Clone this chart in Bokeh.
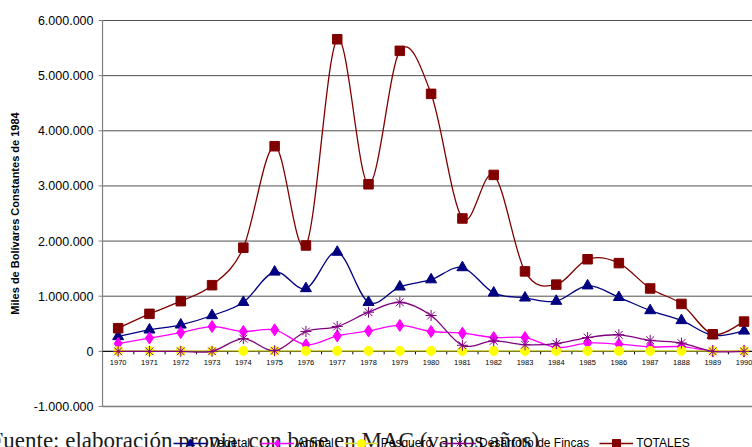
import math
from bokeh.plotting import figure
from bokeh.models import Range1d, Legend, LegendItem
from bokeh.core.properties import value
from bokeh.embed import file_html
from bokeh.resources import INLINE

# Años y etiquetas del eje de categorías (tal como aparecen en el gráfico)
years = [1970, 1971, 1972, 1973, 1974, 1975, 1976, 1977, 1978, 1979, 1980,
         1981, 1982, 1983, 1984, 1985, 1986, 1987, 1988, 1989, 1990]
year_labels = ["1970", "1971", "1972", "1973", "1974", "1975", "1976", "1977",
               "1978", "1979", "1980", "1981", "1982", "1983", "1984", "1985",
               "1986", "1987", "1888", "1989", "1990"]

# Miles de bolívares constantes de 1984
vegetal = [270000, 390000, 480000, 650000, 890000, 1440000, 1140000, 1800000,
           890000, 1170000, 1300000, 1520000, 1060000, 970000, 910000, 1190000,
           980000, 740000, 560000, 290000, 370000]
animal = [140000, 240000, 340000, 450000, 360000, 390000, 120000, 280000,
          370000, 470000, 360000, 330000, 250000, 250000, 70000, 150000,
          130000, 80000, 85000, 5000, 5000]
pesquero = [8000, 8000, 8000, 8000, 8000, 8000, 8000, 8000, 8000, 8000, 8000,
            8000, 8000, 8000, 8000, 8000, 8000, 8000, 8000, 8000, 8000]
desarrollo = [0, 0, 0, 0, 230000, 10000, 360000, 450000, 710000, 890000,
              650000, 110000, 190000, 120000, 140000, 250000, 300000, 200000,
              150000, 0, 0]
totales = [420000, 680000, 910000, 1200000, 1880000, 3720000, 1920000, 5660000,
           3030000, 5450000, 4670000, 2410000, 3200000, 1450000, 1210000,
           1670000, 1600000, 1140000, 860000, 310000, 540000]

y_ticks = [-1000000, 0, 1000000, 2000000, 3000000, 4000000, 5000000, 6000000]
y_tick_labels = ["-1.000.000", "0", "1.000.000", "2.000.000", "3.000.000",
                 "4.000.000", "5.000.000", "6.000.000"]

FONT = "Liberation Sans"
W, H = 752, 447
# The frame covers the whole canvas so the caption and legend below the
# plot area stay visible; the plot area itself spans 1969.5 .. 1990.5.
X0, X1 = 1966.24, 1990.27
Y0, Y1 = -1744000, 6363000
AREA_X0, AREA_X1 = 1969.5, 1990.5
AREA_Y0, AREA_Y1 = -1000000, 6000000


def dx(px):
    return px * (X1 - X0) / W


def dy(px):
    return px * (Y1 - Y0) / H


p = figure(width=W, height=H, output_backend="svg", toolbar_location=None,
           x_range=Range1d(X0, X1), y_range=Range1d(Y0, Y1),
           x_axis_type=None, y_axis_type=None, min_border=0)
p.outline_line_color = None
p.background_fill_color = "white"
p.border_fill_color = "white"

# Líneas de división horizontales y borde inferior del área de trazado
p.segment(x0=[AREA_X0] * len(y_ticks), y0=y_ticks, x1=[AREA_X1] * len(y_ticks),
          y1=y_ticks, line_color="#505050", line_width=1)
p.segment(x0=[AREA_X0], y0=[AREA_Y0], x1=[AREA_X1], y1=[AREA_Y0],
          line_color="#808080", line_width=1.5)

# Eje vertical: línea, marcas y rótulos
p.segment(x0=[AREA_X0], y0=[AREA_Y0], x1=[AREA_X0], y1=[AREA_Y1],
          line_color="#808080", line_width=1.2)
p.segment(x0=[AREA_X0 - dx(4)] * len(y_ticks), y0=y_ticks,
          x1=[AREA_X0] * len(y_ticks), y1=y_ticks, line_color="#808080")
p.text(x=[AREA_X0] * len(y_ticks), y=y_ticks, text=y_tick_labels, x_offset=-9,
       text_align="right", text_baseline="middle", text_font=value(FONT),
       text_font_size="12.5px", text_color="black")
p.text(x=[X0 + dx(14)], y=[(AREA_Y0 + AREA_Y1) / 2],
       text=["Miles de Bolívares Constantes de 1984"], angle=math.pi / 2,
       text_align="center", text_baseline="middle", text_font=value(FONT),
       text_font_style="bold", text_font_size="11px", text_color="black")

# Eje de categorías en cero: línea, marcas entre años y rótulos
p.segment(x0=[AREA_X0], y0=[0], x1=[AREA_X1], y1=[0], line_color="black", line_width=1)
half_years = [y + 0.5 for y in years]
p.segment(x0=half_years, y0=[0] * len(half_years), x1=half_years,
          y1=[-dy(3)] * len(half_years), line_color="black")
p.text(x=years, y=[0] * len(years), text=year_labels, y_offset=9,
       text_align="center", text_baseline="top", text_font=value(FONT),
       text_font_size="7.5px", text_color="black")


def smooth_segments(xs, ys):
    """Control points of a smoothed (Catmull-Rom style) curve through the points."""
    n = len(xs)
    seg = {k: [] for k in ("x0", "y0", "x1", "y1", "cx0", "cy0", "cx1", "cy1")}
    for i in range(n - 1):
        i0 = max(i - 1, 0)
        i3 = min(i + 2, n - 1)
        seg["x0"].append(xs[i]); seg["y0"].append(ys[i])
        seg["x1"].append(xs[i + 1]); seg["y1"].append(ys[i + 1])
        seg["cx0"].append(xs[i] + (xs[i + 1] - xs[i0]) / 6)
        seg["cy0"].append(ys[i] + (ys[i + 1] - ys[i0]) / 6)
        seg["cx1"].append(xs[i + 1] - (xs[i3] - xs[i]) / 6)
        seg["cy1"].append(ys[i + 1] - (ys[i3] - ys[i]) / 6)
    return seg


# Fuente bajo el gráfico (detrás de la leyenda)
p.text(x=[X0 - dx(10)], y=[Y1 - dy(440)],
       text=["Fuente: elaboración propia, con base en MAC (varios años)"],
       text_align="left", text_baseline="alphabetic",
       text_font=value("Liberation Serif"), text_font_size="23px",
       text_color="#1a1a1a")

series = [
    ("Vegetal", vegetal, "#000080", "#000080", "triangle", 11),
    ("Animal", animal, "#FF00FF", "#FF00FF", "diamond", 12),
    ("Pesquero", pesquero, "#D8D830", "#FFFF00", "circle", 9),
    ("Desarrollo de Fincas", desarrollo, "#800080", "#800080", "asterisk", 11),
    ("TOTALES", totales, "#800000", "#800000", "square", 9.5),
]

items = []
for name, vals, lcolor, mcolor, marker, size in series:
    curve = p.bezier(line_color=lcolor, line_width=1.3, **smooth_segments(years, vals))
    pts = p.scatter(years, vals, marker=marker, size=size, fill_color=mcolor,
                    line_color=mcolor, line_width=1)
    items.append(LegendItem(label=name, renderers=[curve, pts]))

legend = Legend(items=items, orientation="horizontal", location=(173, -6),
                padding=0, margin=0, spacing=10, glyph_width=34, glyph_height=20,
                label_height=20, label_standoff=3, label_text_font=FONT,
                label_text_font_size="12px", label_text_color="black",
                background_fill_alpha=0, border_line_color=None)
p.add_layout(legend)

open("out.html", "w").write(file_html(p, INLINE))
